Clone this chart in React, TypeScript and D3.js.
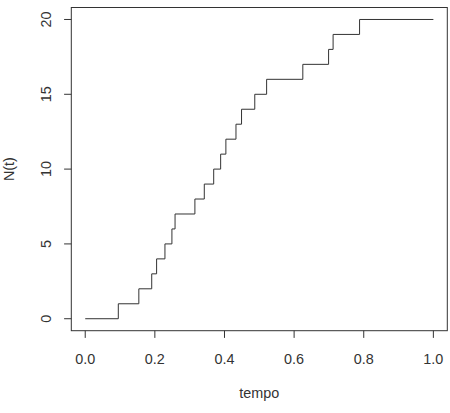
import React from "react";
import * as d3 from "d3";

const jumpTimes = [0.095, 0.154, 0.191, 0.205, 0.229, 0.249, 0.258, 0.315, 0.342, 0.369, 0.389, 0.404, 0.433, 0.449, 0.487, 0.521, 0.625, 0.699, 0.712, 0.788];
const startTime = 0;
const endTime = 1;
const xTicks = [0, 0.2, 0.4, 0.6, 0.8, 1.0];
const yTicks = [0, 5, 10, 15, 20];
const xLabel = "tempo";
const yLabel = "N(t)";

const W = 450, H = 413;
const left = 71.3, right = 447.3, top = 7.5, bottom = 330.7;
const FONT = "'Liberation Sans', Arial, Helvetica, sans-serif";
const INK = "#333";
const FS = 14.4;

export default function App() {
  const x = d3.scaleLinear().domain([-0.04, 1.04]).range([left, right]);
  const y = d3.scaleLinear().domain([-0.8, 20.8]).range([bottom, top]);

  const pts: [number, number][] = [[startTime, 0]];
  jumpTimes.forEach((t, i) => pts.push([t, i + 1]));
  pts.push([endTime, jumpTimes.length]);

  const line = d3.line<[number, number]>()
    .x((d) => x(d[0]))
    .y((d) => y(d[1]))
    .curve(d3.curveStepAfter);

  return (
    <svg width={W} height={H} style={{ position: "absolute", left: 0, top: 0, background: "#fff" }}>
      <rect x={left} y={top} width={right - left} height={bottom - top} fill="none" stroke={INK} strokeWidth={1} />
      <path d={line(pts) || ""} fill="none" stroke={INK} strokeWidth={1} />
      {xTicks.map((t) => (
        <g key={"x" + t}>
          <line x1={x(t)} x2={x(t)} y1={bottom} y2={bottom + 7.2} stroke={INK} />
          <text x={x(t)} y={364} textAnchor="middle" fontFamily={FONT} fontSize={FS} fill={INK}>
            {d3.format(".1f")(t)}
          </text>
        </g>
      ))}
      {yTicks.map((v) => (
        <g key={"y" + v}>
          <line x1={left - 7.2} x2={left} y1={y(v)} y2={y(v)} stroke={INK} />
          <text transform={`translate(50.7,${y(v)}) rotate(-90)`} textAnchor="middle" fontFamily={FONT} fontSize={FS} fill={INK}>
            {v}
          </text>
        </g>
      ))}
      <text x={(left + right) / 2} y={398} textAnchor="middle" fontFamily={FONT} fontSize={FS} fill={INK}>
        {xLabel}
      </text>
      <text transform={`translate(14,${(top + bottom) / 2}) rotate(-90)`} textAnchor="middle" fontFamily={FONT} fontSize={FS} fill={INK}>
        {yLabel}
      </text>
    </svg>
  );
}
